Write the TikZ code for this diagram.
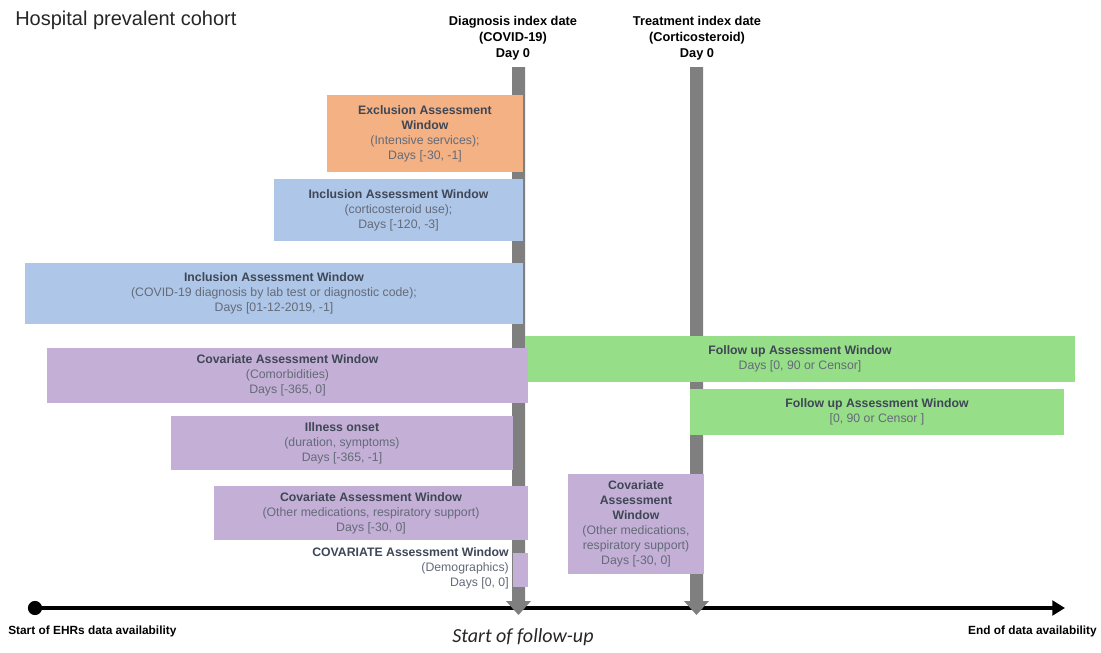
\documentclass[tikz,border=0pt]{standalone}
\usepackage{fontspec}
\setmainfont{Liberation Sans}
\newfontfamily\carlitofont{Carlito}
\usetikzlibrary{fit,arrows.meta}
\definecolor{barc}{HTML}{7F7F7F}
\definecolor{orangec}{HTML}{F4B183}
\definecolor{bluec}{HTML}{AEC7E8}
\definecolor{purplec}{HTML}{C4B0D6}
\definecolor{greenc}{HTML}{97DE88}
\definecolor{hdc}{HTML}{3F4655}
\definecolor{bodyc}{HTML}{646A78}
\definecolor{titlec}{HTML}{262626}
\newcommand{\boxhead}[1]{\textcolor{hdc}{\bfseries #1}}
\newcommand{\boxbody}[1]{\textcolor{bodyc}{#1}}
\tikzset{
  win/.style={inner sep=0pt, draw=none},
  wtext/.style={align=center, inner sep=0pt, font=\fontsize{9.2}{11.3}\selectfont},
  idx/.style={align=center, inner sep=0pt, font=\fontsize{9.6}{12}\selectfont\bfseries, text=black},
  axlbl/.style={inner sep=0pt, font=\fontsize{8.9}{10}\selectfont\bfseries, text=black},
}
\begin{document}
\begin{tikzpicture}[x=0.75pt,y=-0.75pt]
\useasboundingbox (0,0) rectangle (1101,653);
% title
\node[anchor=west, inner sep=0pt, font=\fontsize{15}{18}\selectfont, text=titlec] (title) at (15,20) {Hospital prevalent cohort};
% index labels
\node[idx] (dxlbl) at (513,38) {Diagnosis index date\\(COVID-19)\\Day 0};
\node[idx] (txlbl) at (697,38) {Treatment index date\\(Corticosteroid)\\Day 0};
% timeline
\coordinate (tl0) at (35,608);
\coordinate (tl1) at (1065,608);
\draw[line width=3.4pt, -{Triangle[length=9.5pt,width=11pt]}] (tl0) -- (tl1);
\fill (tl0) circle (5.3pt);
% index bars with arrowheads
\fill[barc] (512,67) -- (525,67) -- (525,601) -- (531,601) -- (518.5,615) -- (506,601) -- (512,601) -- cycle;
\fill[barc] (690,67) -- (703,67) -- (703,601) -- (709,601) -- (696.5,615) -- (684,601) -- (690,601) -- cycle;
% windows
\node[win, fill=orangec, fit={(327,95) (523,172)}] (excl) {};
\node[wtext] (exclT) at (excl.center) {\boxhead{Exclusion Assessment}\\\boxhead{Window}\\\boxbody{(Intensive services);}\\\boxbody{Days [-30, -1]}};
\node[win, fill=bluec, fit={(274,179) (523,241)}] (incl1) {};
\node[wtext] (incl1T) at (incl1.center) {\boxhead{Inclusion Assessment Window}\\\boxbody{(corticosteroid use);}\\\boxbody{Days [-120, -3]}};
\node[win, fill=bluec, fit={(25,263) (523,324)}] (incl2) {};
\node[wtext] (incl2T) at (incl2.center) {\boxhead{Inclusion Assessment Window}\\\boxbody{(COVID-19 diagnosis by lab test or diagnostic code);}\\\boxbody{Days [01-12-2019, -1]}};
\node[win, fill=greenc, fit={(525,336) (1075,382)}] (fu1) {};
\node[wtext] (fu1T) at (fu1.center) {\boxhead{Follow up Assessment Window}\\\boxbody{Days [0, 90 or Censor]}};
\node[win, fill=greenc, fit={(690,389) (1064,435)}] (fu2) {};
\node[wtext] (fu2T) at (fu2.center) {\boxhead{Follow up Assessment Window}\\\boxbody{[0, 90 or Censor ]}};
\node[win, fill=purplec, fit={(47,348) (528,403)}] (cov1) {};
\node[wtext] (cov1T) at (cov1.center) {\boxhead{Covariate Assessment Window}\\\boxbody{(Comorbidities)}\\\boxbody{Days [-365, 0]}};
\node[win, fill=purplec, fit={(171,416) (513,470)}] (ill) {};
\node[wtext] (illT) at (ill.center) {\boxhead{Illness onset}\\\boxbody{(duration, symptoms)}\\\boxbody{Days [-365, -1]}};
\node[win, fill=purplec, fit={(214,486) (528,540)}] (cov2) {};
\node[wtext] (cov2T) at (cov2.center) {\boxhead{Covariate Assessment Window}\\\boxbody{(Other medications, respiratory support)}\\\boxbody{Days [-30, 0]}};
\node[win, fill=purplec, fit={(513,553) (528,587)}] (demo) {};
\node[wtext, align=right, anchor=east] (demoT) at (509,568) {\boxhead{COVARIATE Assessment Window}\\\boxbody{(Demographics)}\\\boxbody{Days [0, 0]}};
\node[win, fill=purplec, fit={(568,474) (704,574)}] (cov3) {};
\node[wtext] (cov3T) at (cov3.center) {\boxhead{Covariate}\\\boxhead{Assessment}\\\boxhead{Window}\\\boxbody{(Other medications,}\\\boxbody{respiratory support)}\\\boxbody{Days [-30, 0]}};
% axis labels
\node[axlbl, anchor=west] (startlbl) at (8,631) {Start of EHRs data availability};
\node[axlbl, anchor=east] (endlbl) at (1097,631) {End of data availability};
\node[inner sep=0pt, font=\carlitofont\itshape\fontsize{15}{18}\selectfont, text=titlec] (fulbl) at (523,637) {Start of follow-up};
\end{tikzpicture}
\end{document}
